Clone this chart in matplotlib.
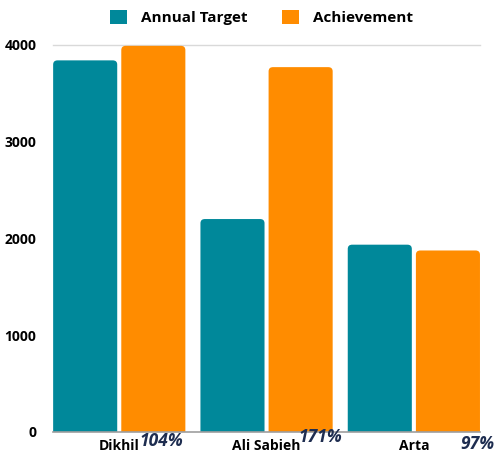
import numpy as np
import matplotlib
matplotlib.use('Agg')
from matplotlib import pyplot as plt
from matplotlib.patches import FancyBboxPatch

regions = ['Dikhil', 'Ali Sabieh', 'Arta']
annual_target = [3840, 2200, 1935]
achievement = [3990, 3770, 1875]
pct_labels = ['104%', '171%', '97%']

teal = '#00889A'
orange = '#FF8C00'
navy = '#1E2D50'

plt.rcParams['font.family'] = ['Open Sans', 'DejaVu Sans']

fig = plt.figure(figsize=(4.95, 4.58), dpi=100)
ax = fig.add_axes([0.107, 0.057, 0.863, 0.845])

x = np.arange(len(regions))
w = 0.435
off = 0.2313
b1 = ax.bar(x - off, annual_target, w, color=teal, label='Annual Target', zorder=2)
b2 = ax.bar(x + off, achievement, w, color=orange, label='Achievement', zorder=2)

# rounded tops: redraw each bar as a FancyBboxPatch, bottom hidden below 0
# mutation_aspect ~ data units per x unit so corners look round
for bars in (b1, b2):
    for p in bars:
        r = FancyBboxPatch((p.get_x(), -200), p.get_width(), p.get_height() + 200,
                           boxstyle='round,pad=0,rounding_size=0.03',
                           mutation_aspect=1450,
                           fc=p.get_facecolor(), ec='none', zorder=2)
        ax.add_patch(r)
        p.set_visible(False)

ax.set_xlim(-0.45, 2.45)
ax.set_ylim(0, 4000)
ax.set_yticks([0, 1000, 2000, 3000, 4000])
ax.axhline(4000, color='#d9d9d9', lw=1, zorder=1, clip_on=False)
ax.axhline(0, color='#9e9e9e', lw=1.2, zorder=3, clip_on=False)
for s in ax.spines.values():
    s.set_visible(False)
ax.tick_params(length=0)
ax.tick_params(axis='y', pad=12)
ax.tick_params(axis='x', pad=5)
ax.set_xticks(x)
ax.set_xticklabels(regions, fontsize=10, fontweight='bold')
for t in ax.get_yticklabels():
    t.set_fontsize(10)
    t.set_fontweight('bold')

txt_off = [(8, -9), (20, -5), (29, -12)]
for i, lab in enumerate(pct_labels):
    ax.annotate(lab, (x[i] + off, 0), xytext=txt_off[i], textcoords='offset pixels',
                ha='center', va='center', fontsize=12.5, fontweight='bold',
                fontstyle='italic', color=navy, annotation_clip=False)

leg = fig.legend(handles=[b1, b2], loc='center', bbox_to_anchor=(0.528, 0.962), ncol=2,
                 frameon=False, handlelength=1.1, handleheight=1.1, columnspacing=2.3,
                 handletextpad=0.9, prop={'weight': 'bold', 'size': 11})
# bars were hidden, keep legend squares showing
for h, c in zip(leg.legend_handles, (teal, orange)):
    h.set_visible(True)
    h.set_facecolor(c)

fig.savefig('out.png', dpi=100)
